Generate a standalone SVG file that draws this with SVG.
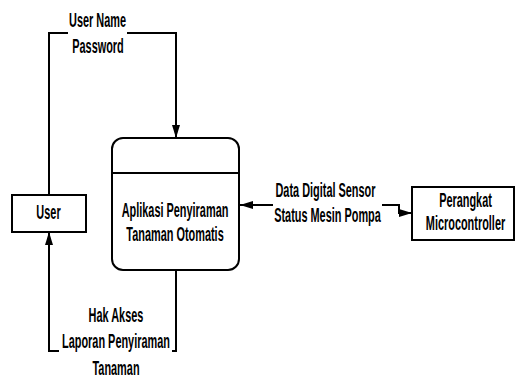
<svg xmlns="http://www.w3.org/2000/svg" width="516" height="379" viewBox="0 0 516 379">
  <style>
    .box { fill: #ffffff; stroke: #000000; stroke-width: 2; }
    .flow { fill: none; stroke: #000000; stroke-width: 2; }
    .lbl { font-family: "Liberation Sans", Arial, sans-serif; font-weight: bold; font-size: 21px; fill: #000000; text-anchor: middle; }
  </style>
  <defs>
    <marker id="arrow" viewBox="0 0 13 8" refX="13" refY="4" markerWidth="13" markerHeight="8" markerUnits="userSpaceOnUse" orient="auto">
      <path d="M0,0 L13,4 L0,8 Z" fill="#000000"/>
    </marker>
  </defs>
  <rect width="516" height="379" fill="#ffffff"/>

  <!-- data flows (labels use a condensed bold face: scaled horizontally) -->
  <g id="connectors">
    <!-- User -> Aplikasi -->
    <path class="flow" d="M49,195 V33 H68"/>
    <path class="flow" d="M127,33 H176 V138" marker-end="url(#arrow)"/>
    <text class="lbl" transform="translate(97.5,27) scale(0.52,1)">User Name</text>
    <text class="lbl" transform="translate(98,53) scale(0.52,1)">Password</text>

    <!-- Aplikasi -> User -->
    <path class="flow" d="M176,270 V351 H172"/>
    <path class="flow" d="M59,351 H49 V232" marker-end="url(#arrow)"/>
    <text class="lbl" transform="translate(116,322) scale(0.52,1)">Hak Akses</text>
    <text class="lbl" transform="translate(116,348) scale(0.52,1)">Laporan Penyiraman</text>
    <text class="lbl" transform="translate(116,375) scale(0.52,1)">Tanaman</text>

    <!-- Aplikasi <-> Perangkat Microcontroller -->
    <path class="flow" d="M273,205 H240" marker-end="url(#arrow)"/>
    <path class="flow" d="M382,205 H399 V213 H412" marker-end="url(#arrow)"/>
    <text class="lbl" transform="translate(325.5,197) scale(0.52,1)">Data Digital Sensor</text>
    <text class="lbl" transform="translate(327.5,222) scale(0.52,1)">Status Mesin Pompa</text>
  </g>

  <!-- external entity: User -->
  <g id="user">
    <rect class="box" x="12" y="195" width="74" height="37"/>
    <text class="lbl" transform="translate(48.5,219) scale(0.52,1)">User</text>
  </g>

  <!-- process -->
  <g id="aplikasi">
    <rect class="box" x="112" y="138" width="127" height="132" rx="11" ry="11"/>
    <line class="flow" x1="112" y1="173" x2="239" y2="173"/>
    <text class="lbl" transform="translate(175,217) scale(0.52,1)">Aplikasi Penyiraman</text>
    <text class="lbl" transform="translate(175,241) scale(0.52,1)">Tanaman Otomatis</text>
  </g>

  <!-- external entity: Perangkat Microcontroller -->
  <g id="perangkat">
    <rect class="box" x="412" y="187" width="102" height="53"/>
    <text class="lbl" transform="translate(465.5,207) scale(0.52,1)">Perangkat</text>
    <text class="lbl" transform="translate(465.5,230) scale(0.52,1)">Microcontroller</text>
  </g>
</svg>
